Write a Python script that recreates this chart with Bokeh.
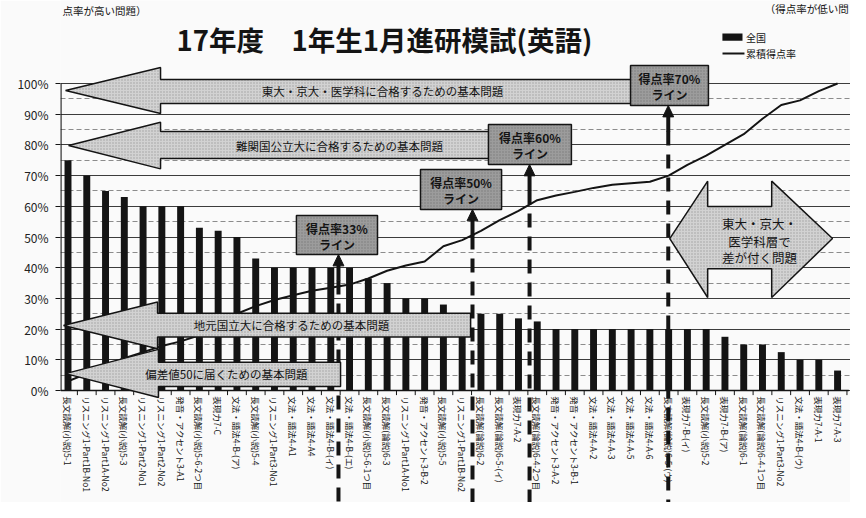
import math
from bokeh.plotting import figure
from bokeh.models import ColumnDataSource, Range1d, FixedTicker, Label
from bokeh.core.properties import value
from bokeh.embed import file_html
from bokeh.resources import INLINE

# ---------------- data ----------------
categories = [
    "長文読解(小説)5-1", "リスニング1-Part1B-No1", "リスニング1-Part1A-No2", "長文読解(小説)5-3",
    "リスニング1-Part2-No1", "リスニング1-Part2-No2", "発音・アクセント3-A1", "長文読解(小説)5-6-2つ目",
    "表現力7-C", "文法・語法4-B-(ア)", "長文読解(小説)5-4", "リスニング1-Part3-No1",
    "文法・語法4-A1", "文法・語法4-A4", "文法・語法4-B-(イ)", "文法・語法4-B-(エ)",
    "長文読解(小説)5-6-1つ目", "長文読解(論説)6-3", "リスニング1-Part1A-No1", "発音・アクセント3-B-2",
    "長文読解(小説)5-5", "リスニング1-Part1B-No2", "長文読解(論説)6-2", "長文読解(論説)6-5-(イ)",
    "表現力7-A-2", "長文読解(論説)6-4-2つ目", "発音・アクセント3-A-2", "発音・アクセント3-B-1",
    "文法・語法4-A-2", "文法・語法4-A-3", "文法・語法4-A-5", "文法・語法4-A-6",
    "長文読解(論説)6-5-(ウ)", "表現力7-B-(イ)", "長文読解(小説)5-2", "表現力7-B-(ア)",
    "長文読解(論説)6-1", "長文読解(論説)6-4-1つ目", "リスニング1-Part3-No2", "文法・語法4-B-(ウ)",
    "表現力7-A-1", "表現力7-A-3",
]
score_rate = [75, 70, 65, 63, 60, 60, 60, 53, 52, 50,
              43, 40, 40, 40, 40, 40, 36.5, 35, 30, 30,
              28, 25, 25, 25, 23.5, 22.5, 20, 20, 20, 20,
              20, 20, 20, 20, 20, 17.5, 15, 15, 12.5, 10,
              10, 6.5]
cumulative_rate = [3, 5.5, 8, 10.5, 12.5, 14.5, 16, 18, 22, 25,
                   27.5, 29.5, 31, 32.5, 33.5, 34.5, 36.5, 39, 40.7, 42,
                   47, 49, 52, 55.5, 58.5, 62, 63.5, 64.7, 66, 67,
                   67.5, 68, 70, 73.5, 76.5, 80, 83.5, 88.5, 93, 94.5,
                   97.5, 100]
y_ticks = [0, 10, 20, 30, 40, 50, 60, 70, 80, 90, 100]
y_tick_labels = ["0%", "10%", "20%", "30%", "40%", "50%", "60%", "70%", "80%", "90%", "100%"]
y_minor_ticks = [5, 15, 25, 35, 45, 55, 65, 75, 85, 95]

title_text = "17年度　1年生1月進研模試(英語)"
legend_bar = "全国"
legend_line = "累積得点率"
note_left = "点率が高い問題）"
note_right = "（得点率が低い問"

FONT = "Noto Sans CJK JP"
INK = "#141414"

xs = list(range(1, len(categories) + 1))
src = ColumnDataSource(dict(x=xs, rate=score_rate, cum=cumulative_rate, label=categories))

p = figure(width=850, height=502,
           x_range=Range1d(0.6004, 42.689), y_range=Range1d(-36.48, 127.04),
           output_backend="svg", toolbar_location=None, x_axis_location=None,
           min_border_left=60, min_border_right=0, min_border_top=0, min_border_bottom=0,
           background_fill_color="#fafafa", border_fill_color="#fafafa",
           outline_line_color=None)

# y axis
ax = p.yaxis[0]
ax.ticker = FixedTicker(ticks=y_ticks, minor_ticks=y_minor_ticks)
ax.major_label_overrides = {t: l for t, l in zip(y_ticks, y_tick_labels)}
ax.major_label_text_font = FONT
ax.major_label_text_font_size = "12px"
ax.major_label_text_color = "#222222"
ax.axis_line_color = None
ax.major_tick_out = 5
ax.major_tick_in = 0
ax.minor_tick_out = 0
ax.minor_tick_in = 0
ax.major_tick_line_color = INK
ax.major_label_standoff = 7

p.ygrid.grid_line_color = "#3c3c3c"
p.ygrid.grid_line_width = 1
p.ygrid.minor_grid_line_color = "#8c8c8c"
p.ygrid.minor_grid_line_dash = "5 3"
p.ygrid.minor_grid_line_width = 1
p.xgrid.visible = False

# axis lines + category ticks
p.segment(x0=0.62, y0=0, x1=0.62, y1=100, line_color=INK, line_width=1.5)
p.segment(x0=0.6, y0=0, x1=42.6, y1=0, line_color=INK, line_width=1.5)
tick_x = [i + 0.5 for i in range(0, len(categories) + 1)]
p.segment(x0=tick_x, y0=0, x1=tick_x, y1=-1.5, line_color=INK, line_width=1)

# bars + cumulative line
p.vbar(x="x", top="rate", bottom=0, width=0.37, source=src, fill_color=INK, line_color=None)
p.line(x="x", y="cum", source=src, line_color=INK, line_width=2)

# category labels (vertical)
p.text(x="x", y=-1.9, text="label", source=src, angle=-math.pi / 2,
       text_align="left", text_baseline="middle", text_font=value(FONT),
       text_font_size="8.5px", text_color=INK)

# score-rate marker lines (dashed, behind arrows)
markers = [(15.41, 44.3), (22.55, 58.96), (25.59, 73.62), (32.98, 92.83)]
for mx, mb in markers:
    p.segment(x0=mx, y0=mb - 8.5, x1=mx, y1=-36.5, line_color=INK, line_width=4, line_dash="14 9")
    p.segment(x0=mx, y0=mb - 3.0, x1=mx, y1=mb - 8.6, line_color=INK, line_width=4)

# block arrows
arrow_xs = [
    [0.87, 5.93, 5.93, 31.3, 31.3, 5.93, 5.93],
    [1.03, 5.93, 5.93, 23.6, 23.6, 5.93, 5.93],
    [0.76, 5.77, 5.77, 22.45, 22.45, 5.77, 5.77],
    [0.87, 5.82, 5.82, 15.52, 15.52, 5.82, 5.82],
    [33.06, 35.08, 35.08, 38.49, 38.49, 41.73, 38.49, 38.49, 35.08, 35.08],
]
arrow_ys = [
    [97.7, 105.2, 101.3, 101.3, 93.5, 93.5, 90.2],
    [79.8, 87.4, 84.4, 84.4, 75.6, 75.6, 72.2],
    [21.2, 28.8, 25.2, 25.2, 17.4, 17.4, 13.6],
    [5.5, 13.4, 9.2, 9.2, 1.3, 1.3, -2.3],
    [49.5, 68.2, 59.9, 59.9, 68.2, 49.5, 30.3, 39.7, 39.7, 30.3],
]
p.patches(xs=arrow_xs, ys=arrow_ys, fill_color="#d2d2d2", line_color=INK, line_width=1.5,
          hatch_pattern="dot", hatch_color="#7a7a7a", hatch_scale=3, hatch_weight=0.6, hatch_alpha=0.6)

arrow_text = ["東大・京大・医学科に合格するための基本問題", "難関国公立大に合格するための基本問題",
              "地元国立大に合格するための基本問題", "偏差値50に届くための基本問題"]
p.text(x=[17.76, 15.46, 12.91, 9.44], y=[97.4, 79.8, 21.2, 5.5], text=arrow_text,
       text_align="center", text_baseline="middle", text_font=value(FONT),
       text_font_size="11.5px", text_color=INK)
p.text(x=[37.84, 37.84, 37.84], y=[54.5, 48.5, 43.2], text=["東大・京大・", "医学科層で", "差が付く問題"],
       text_align="center", text_baseline="middle", text_font=value(FONT),
       text_font_size="12.5px", text_color=INK)

# score-rate boxes
box_l = [13.17, 19.78, 23.40, 30.97]
box_r = [17.49, 24.10, 27.82, 35.12]
box_t = [57.0, 72.0, 86.64, 105.86]
box_b = [44.3, 58.96, 73.62, 92.83]
p.quad(left=box_l, right=box_r, top=box_t, bottom=box_b, fill_color="#9c9c9c",
       line_color=INK, line_width=1.5,
       hatch_pattern="dot", hatch_color="#5a5a5a", hatch_scale=3, hatch_weight=0.6, hatch_alpha=0.5)
box_cx = [(l + r) / 2 for l, r in zip(box_l, box_r)]
p.text(x=box_cx, y=[t - 4.3 for t in box_t],
       text=["得点率33%", "得点率50%", "得点率60%", "得点率70%"],
       text_align="center", text_baseline="middle", text_font=value(FONT),
       text_font_size="12px", text_font_style="bold", text_color=INK)
p.text(x=box_cx, y=[t - 9.5 for t in box_t], text=["ライン"] * 4,
       text_align="center", text_baseline="middle", text_font=value(FONT),
       text_font_size="12px", text_font_style="bold", text_color=INK)
head_xs = [[mx - 0.29, mx + 0.29, mx] for mx, mb in markers]
head_ys = [[mb - 3.7, mb - 3.7, mb] for mx, mb in markers]
p.patches(xs=head_xs, ys=head_ys, fill_color=INK, line_color=INK, line_width=1)

# title
p.text(x=[17.86], y=[114.6], text=[title_text], text_align="center", text_baseline="middle",
       text_font=value(FONT), text_font_size="27.5px", text_font_style="bold", text_color=INK)

# legend
p.rect(x=[36.40], y=[115.1], width=1.07, height=2.3, fill_color=INK, line_color=None)
p.segment(x0=35.87, y0=109.8, x1=37.04, y1=109.8, line_color=INK, line_width=2)
p.text(x=[37.12, 37.12], y=[115.1, 109.8], text=[legend_bar, legend_line],
       text_align="left", text_baseline="middle", text_font=value(FONT),
       text_font_size="10px", text_color=INK)

# corner notes, kept fully inside the canvas
p.add_layout(Label(x=2, y=492, x_units="screen", y_units="screen", text=note_left,
                   text_align="left", text_baseline="middle",
                   text_font=FONT, text_font_size="10.5px", text_color=INK))
p.text(x=[42.6], y=[124.4], text=[note_right], text_align="right", text_baseline="middle",
       text_font=value(FONT), text_font_size="10.5px", text_color=INK)

open("out.html", "w").write(file_html(p, INLINE))
